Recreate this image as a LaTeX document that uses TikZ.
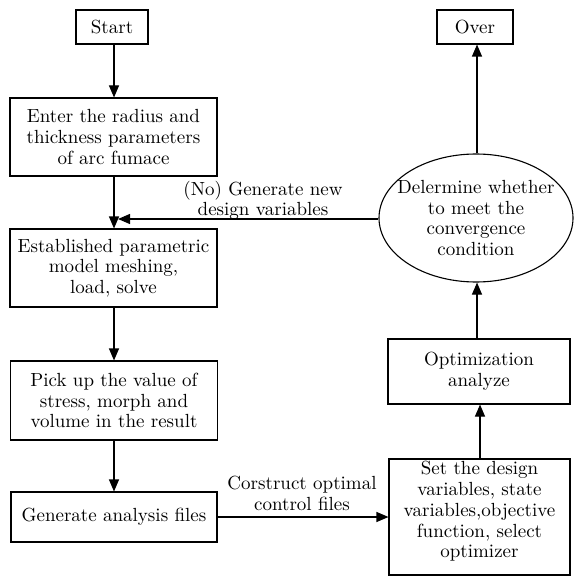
\documentclass[tikz,border=0pt]{standalone}
\usepackage{fontspec}
\setmainfont{lmroman10-regular.otf}
\usetikzlibrary{arrows.meta,shapes.geometric}
\begin{document}
\begin{tikzpicture}[x=1pt,y=-1pt,
  every node/.style={font=\fontsize{19}{20.7}\selectfont, inner sep=0pt},
  box/.style={draw, line width=1.1pt, rectangle, align=center},
  oval/.style={draw, line width=1.1pt, ellipse, align=center, inner xsep=-14pt, inner ysep=0pt, minimum width=194pt, minimum height=128pt},
  conn/.style={line width=1.1pt, -{Triangle[length=12pt,width=10pt]}},
  lbl/.style={align=center}]
\useasboundingbox (0,0) rectangle (573,577);
\node[box, minimum width=72pt, minimum height=34pt] (start) at (112,27) {Start};
\node[box, minimum width=207pt, minimum height=78pt] (enter) at (113.5,137) {Enter the radius and\\thickness parameters\\of arc fumace};
\node[box, minimum width=207pt, minimum height=78pt] (estab) at (113.5,268) {Established parametric\\model meshing,\\load, solve};
\node[box, minimum width=207pt, minimum height=79pt] (pick) at (114,400.5) {Pick up the value of\\stress, morph and\\volume in the result};
\node[box, minimum width=206pt, minimum height=50pt] (gen) at (114,517) {Generate analysis files};
\node[box, minimum width=181pt, minimum height=116pt] (set) at (479.5,517) {Set the design\\variables, state\\variables,objective\\function, select\\optimizer\\[-6pt]};
\node[box, minimum width=182pt, minimum height=65pt] (opt) at (479,371.5) {Optimization\\analyze};
\node[oval] (dec) at (476,218) {Delermine whether\\to meet the\\convergence\\condition};
\node[box, minimum width=76pt, minimum height=34pt] (over) at (475,27) {Over};
\coordinate (merge) at (118,219);
\draw[conn] (start.south -| 114,0) -- (enter.north -| 114,0);
\draw[conn] (enter.south -| 114,0) -- (estab.north -| 114,0);
\draw[conn] (estab.south -| 114,0) -- (pick.north -| 114,0);
\draw[conn] (pick.south -| 114,0) -- (gen.north -| 114,0);
\draw[conn] (gen.east) -- (set.west);
\draw[conn] (set.north -| 480,0) -- (opt.south -| 480,0);
\draw[conn] (opt.north -| 477,0) -- (dec.south -| 477,0);
\draw[conn] (dec.north -| 477,0) -- (over.south -| 477,0);
\draw[conn] (dec.west |- merge) -- (merge);
\node[lbl, anchor=south] (nolbl) at (263,220) {(No) Generate new\\design variables};
\node[lbl, anchor=south] (conlbl) at (302,511) {Corstruct optimal\\control files};
\end{tikzpicture}
\end{document}
